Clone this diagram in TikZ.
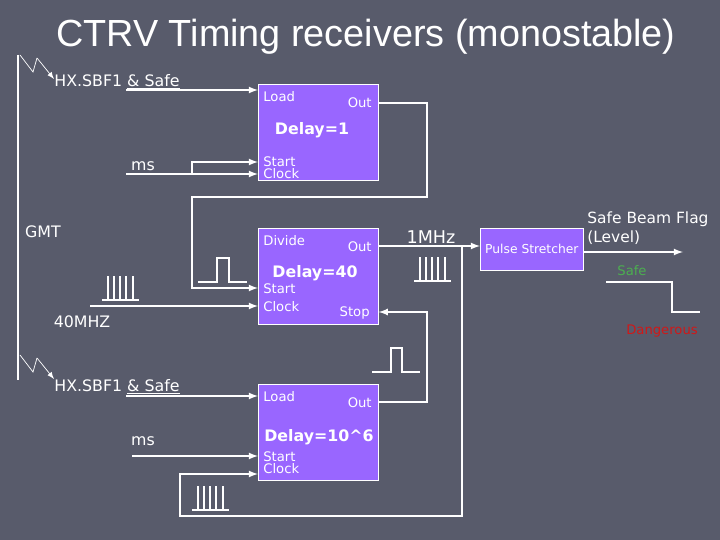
\documentclass[tikz,border=0pt]{standalone}
\usepackage{fontspec}
\setmainfont{DejaVu Sans}
\newfontfamily\titlefont{Liberation Sans}
\usetikzlibrary{arrows,positioning,calc}
\definecolor{bgslate}{HTML}{585B6B}
\definecolor{boxviolet}{HTML}{9966FF}
\definecolor{safegreen}{HTML}{4CAF50}
\definecolor{dangerred}{HTML}{D01818}

\begin{document}
\begin{tikzpicture}[x=0.02cm, y=-0.02cm,
    timer/.style={rectangle, draw=white, fill=boxviolet, minimum width=2.4cm, minimum height=1.92cm, anchor=north west, inner sep=0pt},
    port/.style={text=white, font=\fontsize{7.5}{7}\selectfont, inner sep=0pt},
    lbl/.style={text=white, font=\fontsize{9}{10}\selectfont, inner sep=0pt},
    delay/.style={text=white, font=\bfseries\fontsize{9}{10}\selectfont, inner sep=0pt},
    wire/.style={draw=white, thick},
    arrow/.style={->, >=latex, draw=white, thick},
    sig/.style={draw=white, semithick}
]
\fill[bgslate] (0,0) rectangle (720,540);

\node[text=white, font=\titlefont\fontsize{21.5}{24}\selectfont] (title) at (366,37) {CTRV Timing receivers (monostable)};

% timers
\node[timer] (b1) at (258,84) {};
\node[timer] (b2) at (258,228) {};
\node[timer] (b3) at (258,384) {};
\node[rectangle, draw=white, fill=boxviolet, minimum width=2.06cm, minimum height=0.84cm, anchor=north west, inner sep=0pt, port, font=\fontsize{7}{7}\selectfont] (ps) at (480,228) {Pulse Stretcher};

% port texts
\node[port, anchor=west] (b1load) at (263,97) {Load};
\node[port, anchor=east] (b1out) at (372,103) {Out};
\node[delay] (b1d) at (312,130) {Delay=1};
\node[port, anchor=west] (b1st) at (263,162) {Start};
\node[port, anchor=west] (b1ck) at (263,174) {Clock};
\node[port, anchor=west] (b2div) at (263,241) {Divide};
\node[port, anchor=east] (b2out) at (372,247) {Out};
\node[delay] (b2d) at (315,273) {Delay=40};
\node[port, anchor=west] (b2st) at (263,289) {Start};
\node[port, anchor=west] (b2ck) at (263,307) {Clock};
\node[port, anchor=east] (b2stop) at (370,313) {Stop};
\node[port, anchor=west] (b3load) at (263,397) {Load};
\node[port, anchor=east] (b3out) at (372,403) {Out};
\node[delay, anchor=west] (b3d) at (264,437) {Delay=10\^{}6};
\node[port, anchor=west] (b3st) at (263,457) {Start};
\node[port, anchor=west] (b3ck) at (263,469) {Clock};

% labels
\node[lbl] (hx1) at (117,82) {HX.SBF1 \underline{\& Safe}};
\node[lbl] (hx2) at (117,387) {HX.SBF1 \underline{\& Safe}};
\node[lbl] (ms1) at (143,166) {ms};
\node[lbl] (ms2) at (143,441) {ms};
\node[lbl] (gmt) at (43,232) {GMT};
\node[lbl] (mhz40) at (82,322) {40MHZ};
\node[lbl, font=\fontsize{10}{11}\selectfont] (mhz1) at (431,237) {1MHz};
\node[lbl, anchor=west, align=left, font=\fontsize{8.8}{11}\selectfont] (flag) at (587,228) {Safe Beam Flag\\(Level)};
\node[port, text=safegreen] (safe) at (632,271) {Safe};
\node[port, text=dangerred] (danger) at (662,331) {Dangerous};

% sources
\coordinate (s1) at (126,90);
\coordinate (s2) at (126,174);
\coordinate (s3) at (90,306);
\coordinate (s4) at (126,396);
\coordinate (s5) at (132,456);
\coordinate (flagend) at (683,252);

% GMT bus with lightning arrows
\draw[white, very thick] (18,55) -- (18,380);
\foreach \y in {55,355} {
  \draw[white, thin] (20,\y) -- (33,\y+17) -- (37,\y+3);
  \draw[white, thin, ->, >=latex] (37,\y+3) -- (54,\y+24);
}

% inputs
\draw[arrow] (s1) -- (b1.west |- s1);
\draw[arrow] (s2) -- (b1.west |- s2);
\draw[arrow] (192,174) |- (b1.west |- 0,162);
\draw[arrow] (s3) -- (b2.west |- s3);
\draw[arrow] (s4) -- (b3.west |- s4);
\draw[arrow] (s5) -- (b3.west |- s5);

% chaining
\draw[wire] (b1.east |- 0,103) -- (427,103) -- (427,197) -- (192,197) |- (222,288);
\draw[arrow] (222,288) -- (b2.west |- 0,288);
\draw[arrow] (b3.east |- 0,402) -- (427,402) |- (b2.east |- 0,312);
\draw[arrow] (b2.east |- 0,246) -- (ps.west |- 0,246);
\draw[wire] (462,246) -- (462,516) -- (180,516) |- (220,474);
\draw[arrow] (220,474) -- (b3.west |- 0,474);
\draw[arrow] (ps.east |- flagend) -- (flagend);

% signal sketches
\draw[sig] (198,282) -- (217,282) -- (217,258) -- (229,258) -- (229,282) -- (247,282);
\draw[sig] (372,372) -- (391,372) -- (391,348) -- (402,348) -- (402,372) -- (420,372);
\foreach \x/\y in {102/300, 414/281, 192/510} {
  \draw[sig] (\x,\y) -- (\x+37,\y);
  \foreach \d in {6,12,18,24,31} \draw[sig] (\x+\d,\y) -- (\x+\d,\y-24);
}
\draw[sig] (606,282) -- (672,282) -- (672,312) -- (700,312);
\end{tikzpicture}
\end{document}
